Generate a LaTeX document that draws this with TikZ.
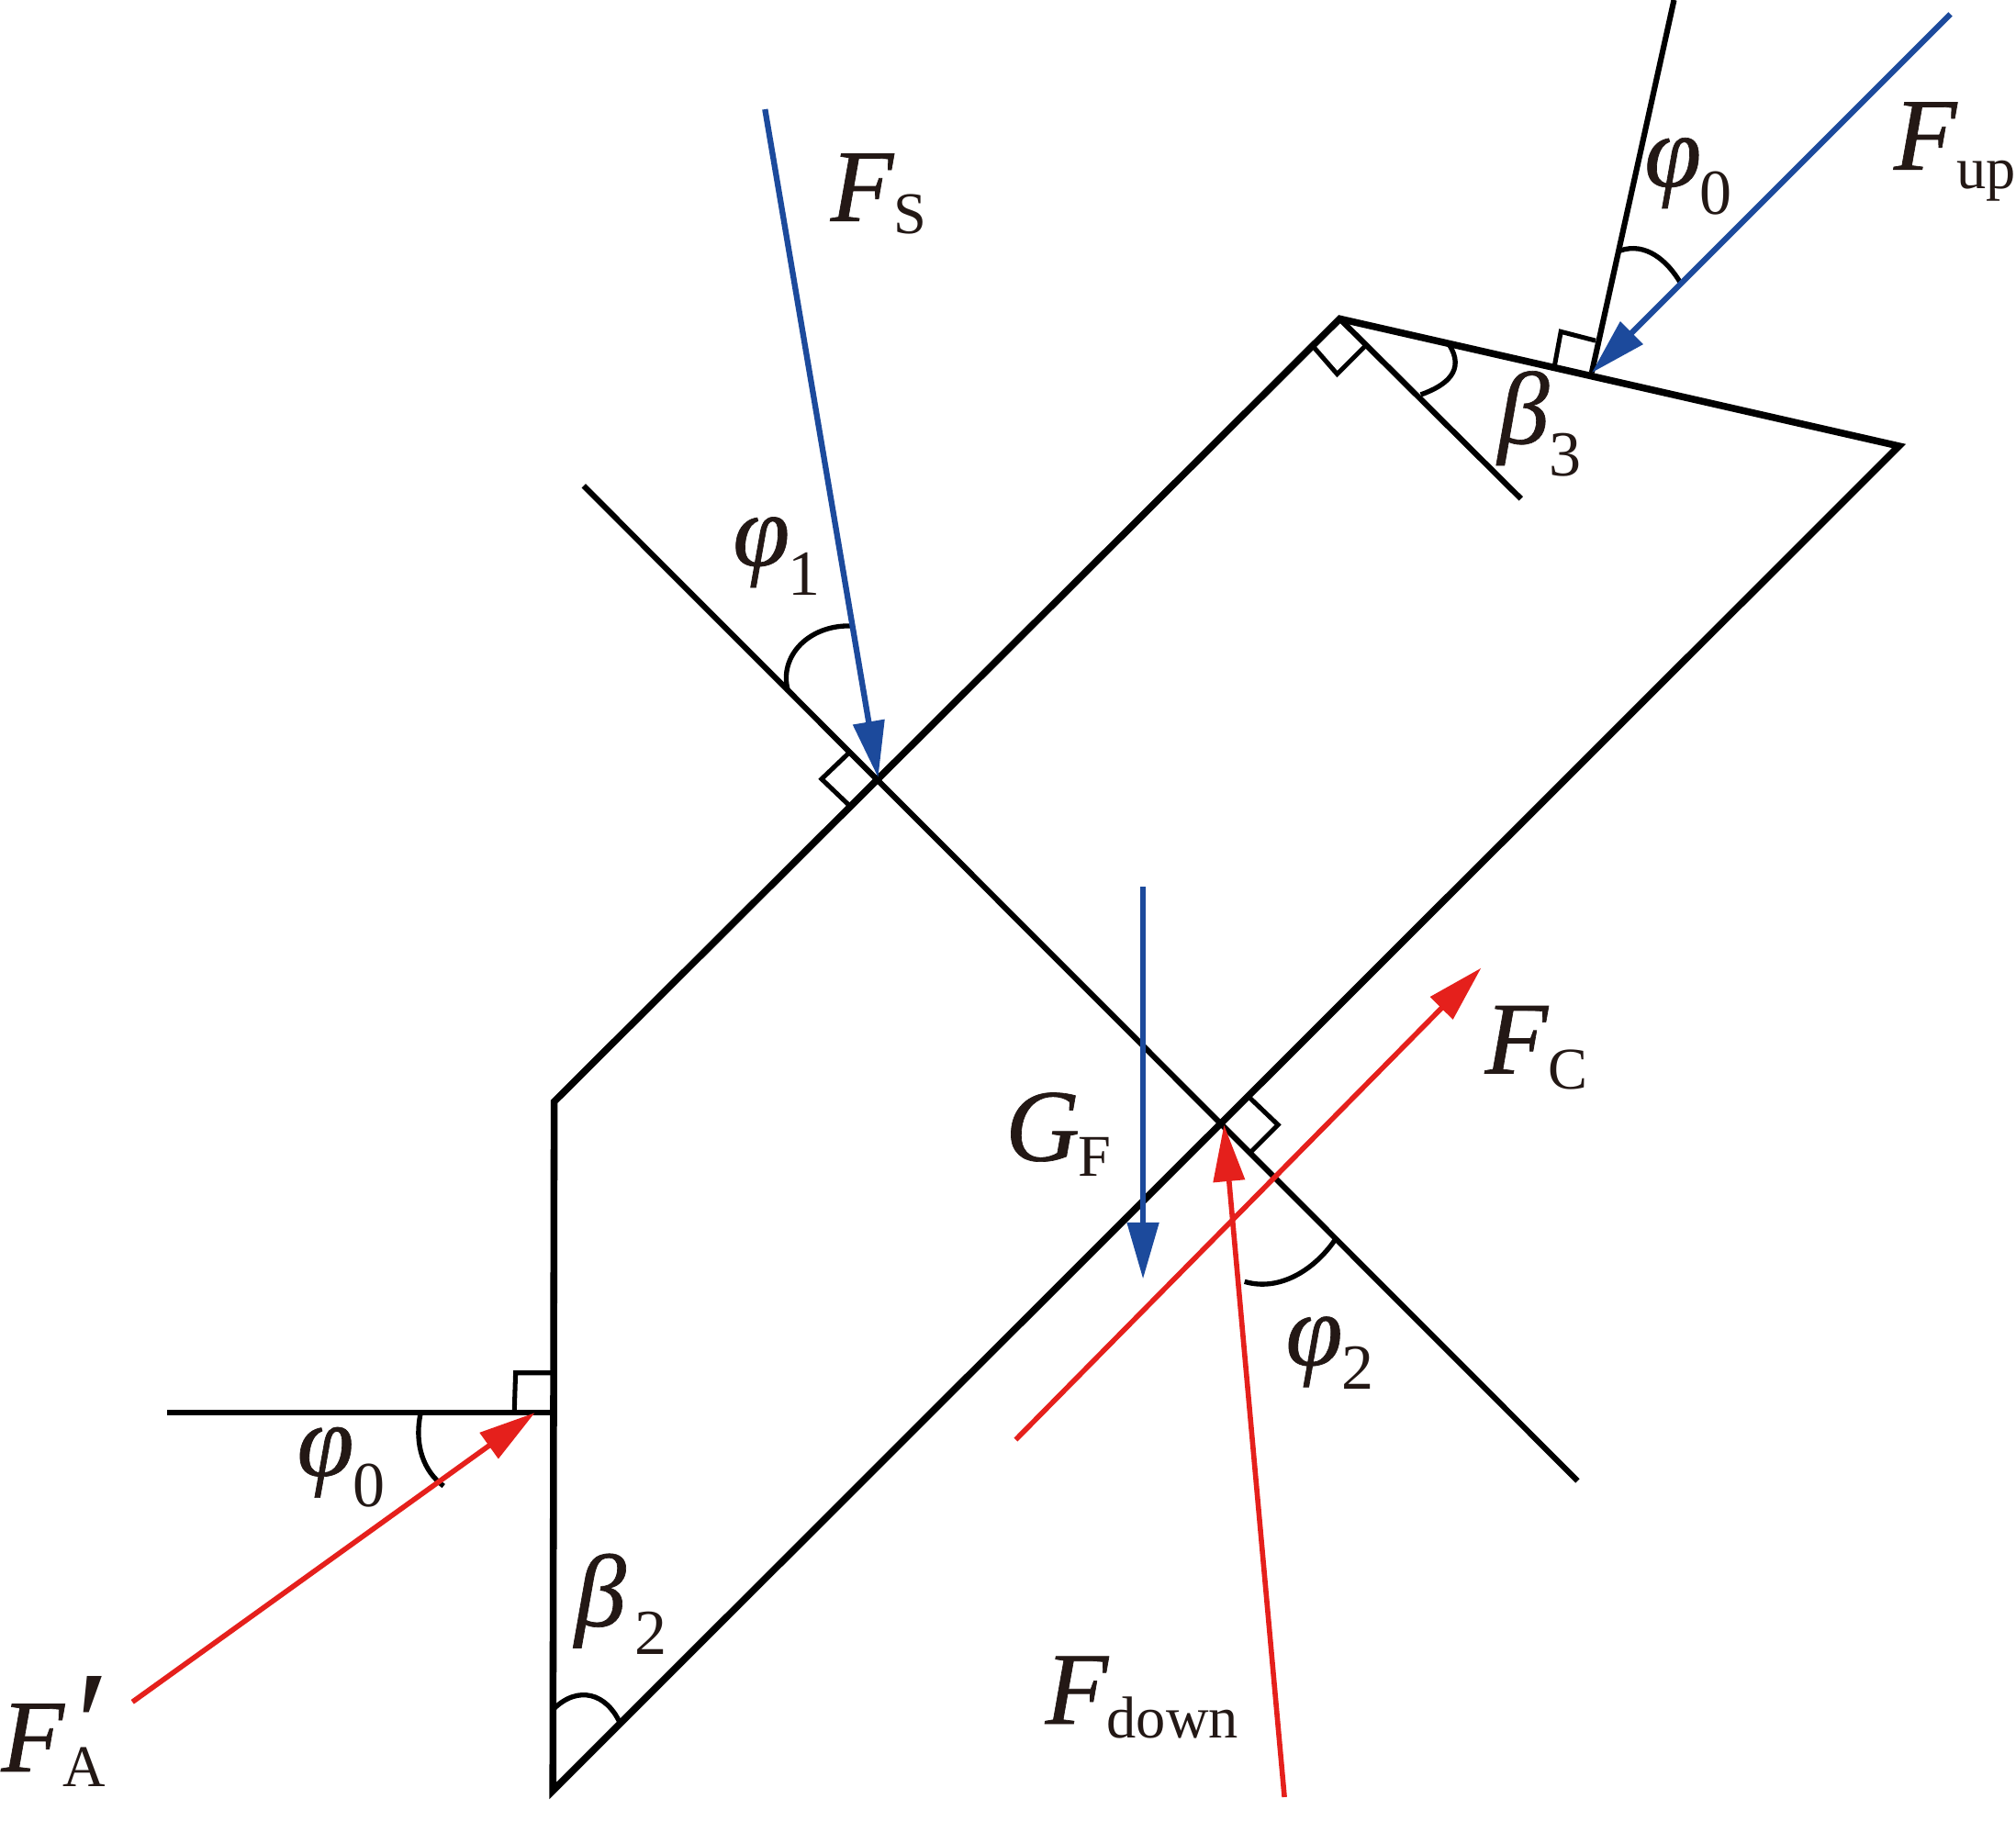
\documentclass[tikz,border=0pt]{standalone}
\usepackage{fontspec}
\setmainfont{Liberation Serif}
\newfontfamily\bigital[FakeBold=0.6]{Liberation Serif}
\usetikzlibrary{arrows.meta}
\definecolor{fblue}{HTML}{1C4A9C}
\definecolor{fred}{HTML}{E5201C}
\definecolor{ink}{HTML}{231815}
% #1 main symbol, #2 subscript, #3 kern, #4 drop
\newcommand{\lblL}[4]{{\fontsize{80}{80}\bigital\itshape #1}\kern#3pt\raisebox{-#4pt}{\fontsize{46}{46}\selectfont #2}}
\newcommand{\lblD}[4]{{\fontsize{80}{80}\bigital\itshape #1}\kern#3pt\raisebox{-#4pt}{\fontsize{50}{50}\selectfont #2}}
\tikzset{
  outline/.style={line width=5.4pt,line join=miter,draw=black},
  thin/.style={line width=4.4pt,draw=black},
  arcmark/.style={line width=3.8pt,draw=black},
  mark90/.style={line width=3.6pt,draw=black,line join=miter},
  fb/.style={line width=4.5pt,draw=fblue,-{Triangle[length=44pt,width=24pt]}},
  fr/.style={line width=4pt,draw=fred,-{Triangle[length=44pt,width=24pt]}},
  lab/.style={anchor=base west,inner sep=0pt,outer sep=0pt,text=ink},
}
\begin{document}
\begin{tikzpicture}[x=1pt,y=-1pt]
\useasboundingbox (0,0) rectangle (1568,1416);
% key points
\coordinate (A) at (431,857);
\coordinate (B) at (430,1393);
\coordinate (C) at (1477,347);
\coordinate (D) at (1042,248);
\coordinate (P1) at (683,605);
\coordinate (P2) at (952,875);
\coordinate (P3) at (1238,290);
\coordinate (P4) at (429,1099);
\coordinate (N1a) at (454,378);
\coordinate (N1b) at (1227,1152);
\coordinate (N2) at (1302,0);
\coordinate (N3) at (1183,388);
\coordinate (N4) at (130,1099);
\coordinate (Fs) at (595,85);
\coordinate (Fu) at (1517,11);
\coordinate (Ga) at (889,690);
\coordinate (Gb) at (889,995);
\coordinate (Ca) at (790,1120);
\coordinate (Cb) at (1152,753);
\coordinate (Fd) at (999,1398);
\coordinate (Fa) at (103,1324);
\coordinate (Fat) at (416,1099);
% thin normals
\draw[thin] (N1a) -- (N1b);
\draw[thin] (N2) -- (P3);
\draw[thin] (D) -- (N3);
\draw[thin] (N4) -- (P4);
% body
\draw[outline] (A) -- (B) -- (C) -- (D) -- cycle;
% right angle marks
\draw[mark90] (1209,285) -- (1214,258) -- (1241,265);
\draw[mark90] (1020,268) -- (1040,291) -- (1062,269);
\draw[mark90] (661,627) -- (639,606) -- (661,585);
\draw[mark90] (972,854) -- (994,875) -- (973,896);
\draw[mark90] (400,1099) -- (401,1068) -- (431,1068);
% angle arcs
\draw[arcmark] (1260,195) .. controls (1280,188) and (1297,203) .. (1307,220);
\draw[arcmark] (1105,307) .. controls (1125,300) and (1140,288) .. (1127,268);
\draw[arcmark] (613,538) .. controls (605,510) and (630,485) .. (664,487);
\draw[arcmark] (968,997) .. controls (995,1005) and (1022,988) .. (1038,965);
\draw[arcmark] (327,1100) .. controls (322,1125) and (330,1145) .. (345,1156);
\draw[arcmark] (430,1330) .. controls (450,1310) and (472,1318) .. (482,1340);
% forces
\draw[fb] (Fs) -- (P1);
\draw[fb] (Fu) -- (P3);
\draw[fb] (Ga) -- (Gb);
\draw[fr] (Ca) -- (Cb);
\draw[fr] (Fd) -- (P2);
\draw[fr] (Fa) -- (Fat);
% labels
\node[lab] (lFs) at (646,172) {\lblL{F}{S}{0}{10}};
\node[lab] (lFu) at (1473,132) {\lblL{F}{up}{0}{15}};
\node[lab] (lp0t) at (1279,145) {\lblD{φ}{0}{-1}{22}};
\node[lab] (lb3) at (1165,345) {\lblD{β}{3}{0}{25}};
\node[lab] (lp1) at (570,440) {\lblD{φ}{1}{-1}{23}};
\node[lab] (lFc) at (1155,835) {\lblL{F}{C}{0}{12}};
\node[lab] (lGf) at (782,903) {\lblL{G}{F}{-1}{12}};
\node[lab] (lp2) at (1000,1062) {\lblD{φ}{2}{-1}{19}};
\node[lab] (lp0l) at (231,1148) {\lblD{φ}{0}{-1}{24}};
\node[lab] (lb2) at (447,1265) {\lblD{β}{2}{7}{22}};
\node[lab] (lFd) at (813,1341) {\lblL{F}{down}{-1}{11}};
\node[lab] (lFa) at (1,1378) {\lblL{F}{A}{-1}{12}\kern-30pt\raisebox{-5pt}{\fontsize{120}{120}\selectfont\itshape ′}};
\end{tikzpicture}
\end{document}
